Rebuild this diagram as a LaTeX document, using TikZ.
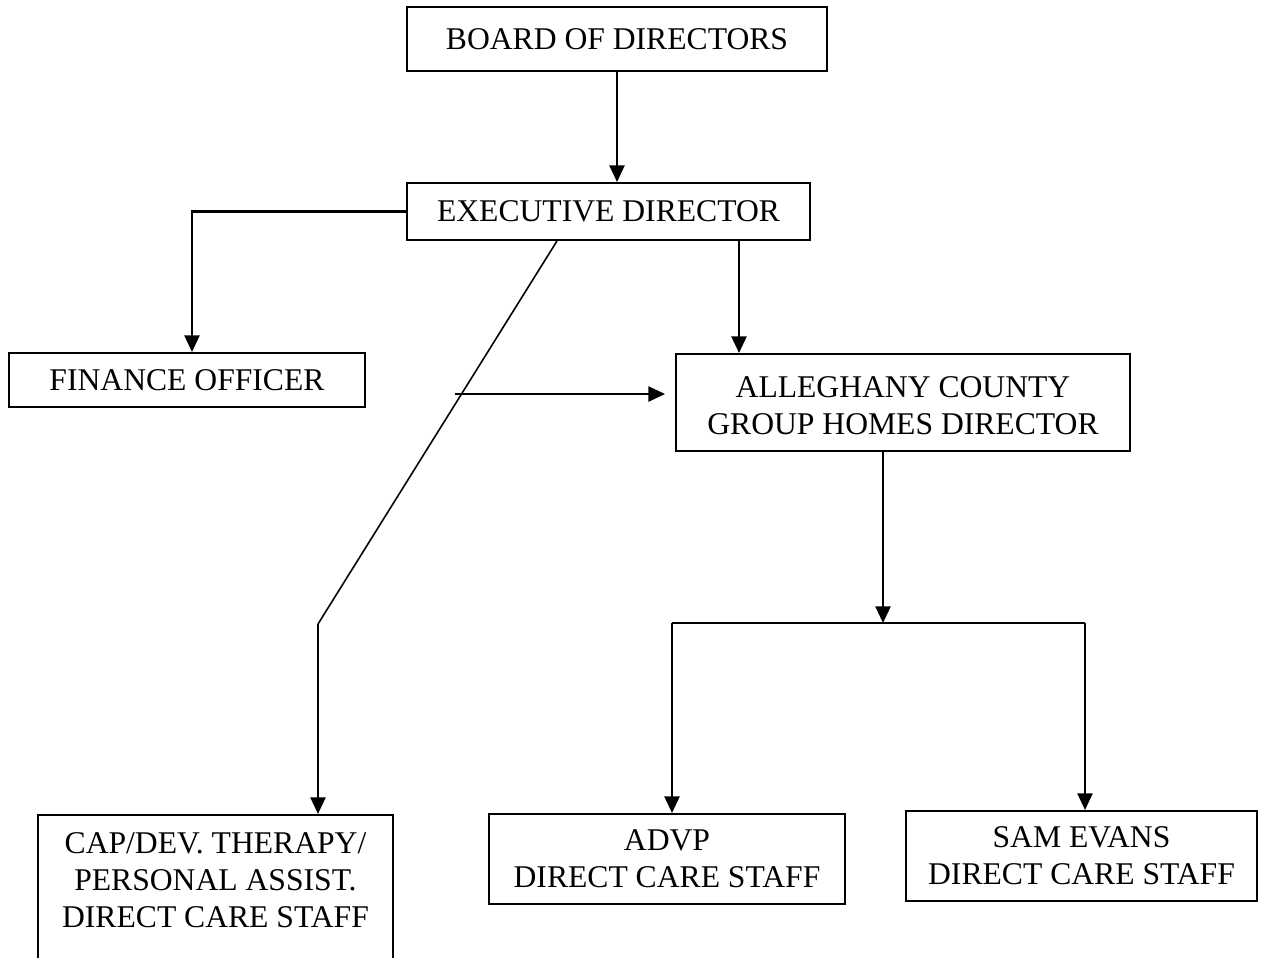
\documentclass[tikz,border=0pt]{standalone}
\usepackage{fontspec}
\setmainfont{Liberation Serif}
\usetikzlibrary{arrows.meta,calc}

\begin{document}
\begin{tikzpicture}[
  x=0.02cm, y=-0.02cm,
  box/.style={draw, line width=1.1pt, align=center, inner sep=0pt, font=\fontsize{18}{21}\selectfont},
  txt/.style={align=center, inner sep=0pt, font=\fontsize{18}{21}\selectfont},
  arr/.style={-{Triangle[length=9.5pt,width=8.5pt]}, line width=1.5pt},
  link/.style={line width=1.5pt},
  slant/.style={line width=0.9pt}
]
\useasboundingbox (0,0) rectangle (1263,957);

% boxes
\node[box, minimum width=8.4cm, minimum height=1.28cm] (board) at (617,39) {BOARD OF DIRECTORS};
\node[box, minimum width=8.06cm, minimum height=1.14cm] (exec) at (608.5,211.5) {EXECUTIVE DIRECTOR};
\node[box, minimum width=7.12cm, minimum height=1.08cm] (fin) at (187,380) {FINANCE OFFICER};
\node[box, minimum width=9.08cm, minimum height=1.94cm, text height=1.3cm] (alle) at (903,402.5) {ALLEGHANY COUNTY\\GROUP HOMES DIRECTOR};
\node[box, minimum width=7.1cm, minimum height=4cm, anchor=north] (cap) at (215.5,814) {};
\node[txt] (captxt) at (215.5,880) {CAP/DEV. THERAPY/\\PERSONAL ASSIST.\\DIRECT CARE STAFF};
\node[box, minimum width=7.12cm, minimum height=1.8cm] (advp) at (667,859) {ADVP\\DIRECT CARE STAFF};
\node[box, minimum width=7.02cm, minimum height=1.8cm] (sam) at (1081.5,856) {SAM EVANS\\DIRECT CARE STAFF};

% helper points
\coordinate (xa) at (739,0);
\coordinate (slanttop) at (557,0);
\coordinate (bend) at (318,624);
\coordinate (hstart) at (455,394);
\coordinate (split) at (883,623);
\coordinate (bl) at (672,623);
\coordinate (br) at (1085,623);

% connectors
\draw[arr] (board.south) -- (board.south |- exec.north);
\draw[arr] (exec.west) -| ([xshift=0.1cm]fin.north);
\draw[arr] (exec.south -| xa) -- (alle.north -| xa);
\draw[slant] (exec.south -| slanttop) -- (bend);
\draw[arr] (bend) -- (cap.north -| bend);
\draw[arr, shorten >=0.2cm] (hstart) -- (alle.west |- hstart);
\draw[arr] (alle.south -| split) -- (split);
\draw[link] (bl) -- (br);
\draw[arr] (bl) -- (advp.north -| bl);
\draw[arr] (br) -- (sam.north -| br);
\end{tikzpicture}
\end{document}
